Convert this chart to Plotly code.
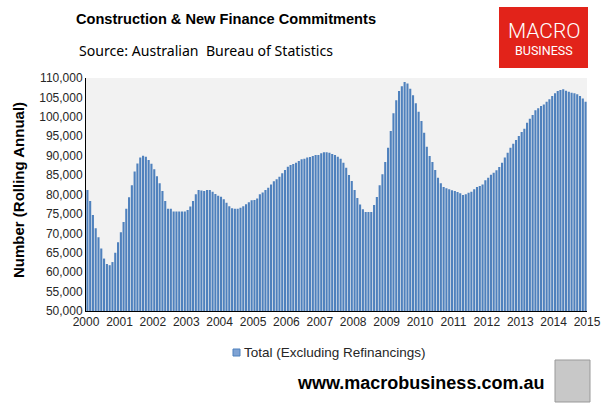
import plotly.graph_objects as go
import pandas as pd

months = pd.date_range("2000-01-01", "2014-12-01", freq="MS")

values = [
    81150, 78300, 74700, 71300, 69000, 66100, 63500, 62100, 61800, 62600, 65000, 67700,
    70300, 72900, 76300, 79300, 82400, 85900, 88000, 89500, 90000, 89700, 88900, 87900,
    86500, 84700, 82900, 80900, 78300, 76300, 76300, 75600, 75600, 75600, 75600, 75600,
    76000, 76900, 78300, 80050, 81150, 81000, 80900, 81150, 81150, 80700, 80100, 79700,
    79400, 78800, 77900, 77000, 76450, 76300, 76300, 76600, 77000, 77500, 78000, 78500,
    78600, 79000, 80050, 80500, 81150, 81750, 82600, 83400, 83900, 84600, 85450, 86300,
    87150, 87600, 87850, 88200, 88600, 89050, 89200, 89500, 89650, 89900, 90150, 90150,
    90600, 90850, 90850, 90750, 90400, 90150, 89700, 89200, 88200, 86900, 85000, 83500,
    81150, 79100, 77450, 76200, 75500, 75500, 75500, 77300, 79350, 82350, 85200, 88350,
    92050, 96350, 100900, 104300, 106650, 107900, 108950, 108600, 107250, 105550, 103500, 101300,
    98900, 95900, 92300, 89900, 88350, 86300, 84300, 82900, 81950, 81600, 81350, 81100,
    80900, 80650, 80300, 79900, 80050, 80450, 80700, 81350, 81950, 82200, 82600, 83650,
    84300, 85100, 85600, 86250, 87100, 88200, 89500, 90750, 92050, 93100, 94050, 95050,
    96100, 96950, 98500, 99500, 100450, 101700, 102200, 102800, 103200, 103900, 104500, 105350,
    106050, 106650, 106900, 107100, 106700, 106450, 106200, 106050, 105800, 105350, 104750, 103900,
]

series_name = "Total (Excluding Refinancings)"
title_text = "Construction & New Finance Commitments"
source_text = "Source: Australian  Bureau of Statistics"
footer_text = "www.macrobusiness.com.au"

W, H = 608, 406
L, R, T, B = 86, 587, 78, 311

def px(x):
    return (x - L) / (R - L)

def py(y):
    return (B - y) / (B - T)

fig = go.Figure()
fig.add_trace(go.Bar(
    x=months, y=values, name=series_name, showlegend=False,
    xperiod="M1", xperiodalignment="middle",
    marker=dict(color="#4F81BD", line=dict(width=0)),
))

fig.update_layout(
    width=W, height=H,
    margin=dict(l=L, r=W - R, t=T, b=H - B, pad=0),
    paper_bgcolor="white", plot_bgcolor="#F2F2F2",
    bargap=0.22,
    font=dict(family="Liberation Sans, Arial", size=12, color="#333333"),
    showlegend=False,
    xaxis=dict(type="date", range=["2000-01-01", "2015-01-01"], dtick="M12", tickformat="%Y",
               showgrid=False, showline=True, linecolor="black", linewidth=1, ticks="",
               tickfont=dict(size=12, color="#262626"), fixedrange=True, automargin=False),
    yaxis=dict(range=[50000, 110000], dtick=5000, tickformat=",", showgrid=False,
               showline=True, linecolor="black", linewidth=1, ticks="", zeroline=False,
               tickfont=dict(size=12, color="#262626"), automargin=False),
)

ann = [
    dict(text="<b>" + title_text + "</b>", x=px(226), y=py(19), font=dict(size=14.6, color="black")),
    dict(text=source_text, x=px(206), y=py(50), font=dict(size=14.1, color="black", family="Noto Sans")),
    dict(text="<b>Number (Rolling Annual)</b>", x=px(18), y=py(190), textangle=-90,
         font=dict(size=15, color="black")),
    dict(text="<b>" + footer_text + "</b>", x=px(420), y=py(383), font=dict(size=18, color="black")),
    dict(text="MACRO", x=px(544), y=py(31), font=dict(size=21, color="white", family="Roboto", weight=300)),
    dict(text="BUSINESS", x=px(544), y=py(50), font=dict(size=12.5, color="white", family="Roboto")),
    dict(text=series_name, x=px(242), y=py(352), xanchor="left", font=dict(size=13.5, color="#262626")),
]
for a in ann:
    a.setdefault("xanchor", "center")
    a.update(xref="paper", yref="paper", showarrow=False, yanchor="middle")
    fig.add_annotation(**a)

# legend key
fig.add_shape(type="rect", xref="paper", yref="paper", x0=px(233), x1=px(240), y0=py(356), y1=py(349),
              fillcolor="#7FA3D4", line=dict(width=1, color="#4F81BD"), layer="above")
# logo box
fig.add_shape(type="rect", xref="paper", yref="paper", x0=px(499), x1=px(588), y0=py(68), y1=py(7),
              fillcolor="#E2231A", line=dict(width=0), layer="below")
# wolf picture frame
fig.add_shape(type="rect", xref="paper", yref="paper", x0=px(555), x1=px(590), y0=py(402), y1=py(360),
              fillcolor="#C8C8C8", line=dict(width=1, color="#999999"), layer="above")

fig.write_html("out.html", config={"displayModeBar": False},
               post_script="document.body.style.margin='0px';")
